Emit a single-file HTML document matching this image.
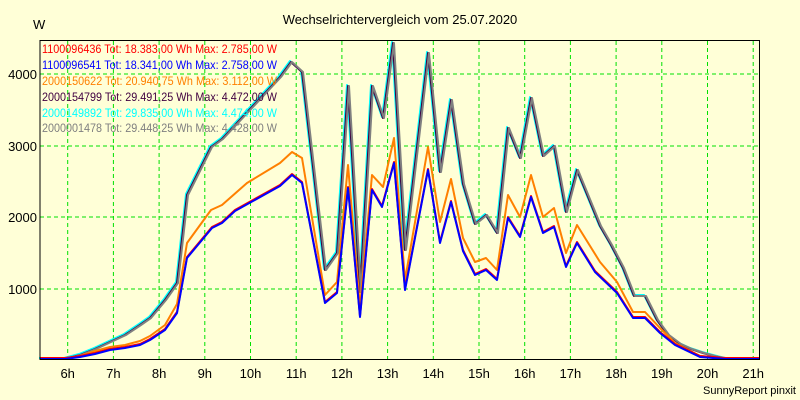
<!DOCTYPE html>
<html><head><meta charset="utf-8"><style>
body{margin:0;background:#ffffd7;}
svg{display:block;font-family:"Liberation Sans",sans-serif;}
</style></head><body>
<svg width="800" height="400" viewBox="0 0 800 400" xmlns="http://www.w3.org/2000/svg">
<rect width="800" height="400" fill="#ffffd7"/>
<text x="400" y="24" font-size="13" text-anchor="middle">Wechselrichtervergleich vom 25.07.2020</text>
<text x="33" y="29" font-size="13">W</text>
<g stroke="#00e000" stroke-width="1" stroke-dasharray="4,3">
<line x1="40" x2="759" y1="74" y2="74"/><line x1="40" x2="759" y1="146" y2="146"/>
<line x1="40" x2="759" y1="217" y2="217"/><line x1="40" x2="759" y1="289" y2="289"/>
<line x1="67.7" x2="67.7" y1="41" y2="359"/><line x1="113.4" x2="113.4" y1="41" y2="359"/>
<line x1="159.1" x2="159.1" y1="41" y2="359"/><line x1="204.8" x2="204.8" y1="41" y2="359"/>
<line x1="250.5" x2="250.5" y1="41" y2="359"/><line x1="296.2" x2="296.2" y1="41" y2="359"/>
<line x1="341.9" x2="341.9" y1="41" y2="359"/><line x1="387.6" x2="387.6" y1="41" y2="359"/>
<line x1="433.3" x2="433.3" y1="41" y2="359"/><line x1="479" x2="479" y1="41" y2="359"/>
<line x1="524.7" x2="524.7" y1="41" y2="359"/><line x1="570.4" x2="570.4" y1="41" y2="359"/>
<line x1="616.1" x2="616.1" y1="41" y2="359"/><line x1="661.8" x2="661.8" y1="41" y2="359"/>
<line x1="707.5" x2="707.5" y1="41" y2="359"/><line x1="753.2" x2="753.2" y1="41" y2="359"/>
</g>
<g font-size="13" text-anchor="end">
<text x="37" y="79">4000</text><text x="37" y="151">3000</text><text x="37" y="222">2000</text><text x="37" y="294">1000</text>
</g>
<g font-size="13" text-anchor="middle">
<text x="67.7" y="378">6h</text><text x="113.4" y="378">7h</text><text x="159.1" y="378">8h</text><text x="204.8" y="378">9h</text><text x="250.5" y="378">10h</text><text x="296.2" y="378">11h</text><text x="341.9" y="378">12h</text><text x="387.6" y="378">13h</text><text x="433.3" y="378">14h</text><text x="479" y="378">15h</text><text x="524.7" y="378">16h</text><text x="570.4" y="378">17h</text><text x="616.1" y="378">18h</text><text x="661.8" y="378">19h</text><text x="707.5" y="378">20h</text><text x="753.2" y="378">21h</text>
</g>
<text x="796" y="394" font-size="11" text-anchor="end">SunnyReport pinxit</text>
<g fill="none" stroke-width="2" stroke-linejoin="round">
<polyline transform="translate(-1,-1)" stroke="#00ffff" points="40,359 65,359 80,355 95,349 110,342 125,335 140,325 150,318 165,300 177,283 187,195 211,147 222,139 280,77 291,62 302,72 325,270 337,253 348,86 360,292 372,86 383,118 393,43 405,250 428,53 440,172 451,100 463,184 475,224 486,215 497,233 508,128 520,158 531,98 543,156 554,146 566,212 577,170 600,226 611,245 623,268 634,296 645,296 657,320 668,335 680,344 691,349 703,353 714,356 726,359 759,359"/>
<polyline stroke="#400040" points="40,359 65,359 80,355 95,349 110,342 125,335 140,325 150,318 165,300 177,283 187,195 211,147 222,139 280,77 291,62 302,72 325,270 337,253 348,86 360,292 372,86 383,118 393,43 405,250 428,53 440,172 451,100 463,184 475,224 486,215 497,233 508,128 520,158 531,98 543,156 554,146 566,212 577,170 600,226 611,245 623,268 634,296 645,296 657,320 668,335 680,344 691,349 703,353 714,356 726,359 759,359"/>
<polyline stroke="#808080" transform="translate(1,0)" points="40,359 65,359 80,355 95,349 110,342 125,335 140,325 150,318 165,300 177,283 187,195 211,147 222,139 280,77 291,62 302,72 325,270 337,253 348,86 360,292 372,86 383,118 393,43 405,250 428,53 440,172 451,100 463,184 475,224 486,215 497,233 508,128 520,158 531,98 543,156 554,146 566,212 577,170 600,226 611,245 623,268 634,296 645,296 657,320 668,335 680,344 691,349 703,353 714,356 726,359 759,359"/>
<polyline stroke="#ff8000" points="40,359 65,359 80,356 95,351 110,347 125,345 140,341 150,336 165,325 177,304 187,243 211,210 222,205 247,183 280,163 292,152 302,158 325,295 337,282 348,165 360,307 372,175 383,187 394,138 405,280 428,147 440,222 451,179 463,238 475,262 486,258 497,270 508,195 520,217 531,175 543,217 554,208 566,253 577,225 600,262 617,282 633,312 645,312 660,328 675,343 700,356 726,359 759,359"/>
<polyline stroke="#ff0000" transform="translate(0,-1)" points="40,359 65,359 80,357 95,354 110,350 125,348 140,345 150,340 165,330 177,313 187,258 212,228 222,223 235,211 280,186 292,175 302,183 325,303 337,293 348,188 360,317 372,190 382,207 394,163 405,290 428,170 440,243 451,202 463,251 475,275 486,270 497,280 508,218 520,237 531,197 543,233 554,227 566,267 577,243 595,272 617,293 633,318 645,318 660,333 675,345 700,357 726,359 759,359"/>
<polyline stroke="#0000ff" points="40,359 65,359 80,357 95,354 110,350 125,348 140,345 150,340 165,330 177,313 187,258 212,228 222,223 235,211 280,186 292,175 302,183 325,303 337,293 348,188 360,317 372,190 382,207 394,163 405,290 428,170 440,243 451,202 463,251 475,275 486,270 497,280 508,218 520,237 531,197 543,233 554,227 566,267 577,243 595,272 617,293 633,318 645,318 660,333 675,345 700,357 726,359 759,359"/>
</g>
<g font-size="12" lengthAdjust="spacingAndGlyphs">
<text x="42" y="53" fill="#ff0000" textLength="235" lengthAdjust="spacingAndGlyphs">1100096436 Tot: 18.383,00 Wh Max: 2.785,00 W</text>
<text x="42" y="69" fill="#0000ff" textLength="235" lengthAdjust="spacingAndGlyphs">1100096541 Tot: 18.341,00 Wh Max: 2.758,00 W</text>
<text x="42" y="85" fill="#ff8000" textLength="235" lengthAdjust="spacingAndGlyphs">2000150622 Tot: 20.940,75 Wh Max: 3.112,00 W</text>
<text x="42" y="101" fill="#400040" textLength="235" lengthAdjust="spacingAndGlyphs">2000154799 Tot: 29.491,25 Wh Max: 4.472,00 W</text>
<text x="42" y="117" fill="#00ffff" textLength="235" lengthAdjust="spacingAndGlyphs">2000149892 Tot: 29.835,00 Wh Max: 4.474,00 W</text>
<text x="42" y="132" fill="#808080" textLength="235" lengthAdjust="spacingAndGlyphs">2000001478 Tot: 29.448,25 Wh Max: 4.428,00 W</text>
</g>
<path d="M40,40.5 H759.5 V359.5 H40 Z" fill="none" stroke="#000" stroke-width="1"/>
</svg>
</body></html>
